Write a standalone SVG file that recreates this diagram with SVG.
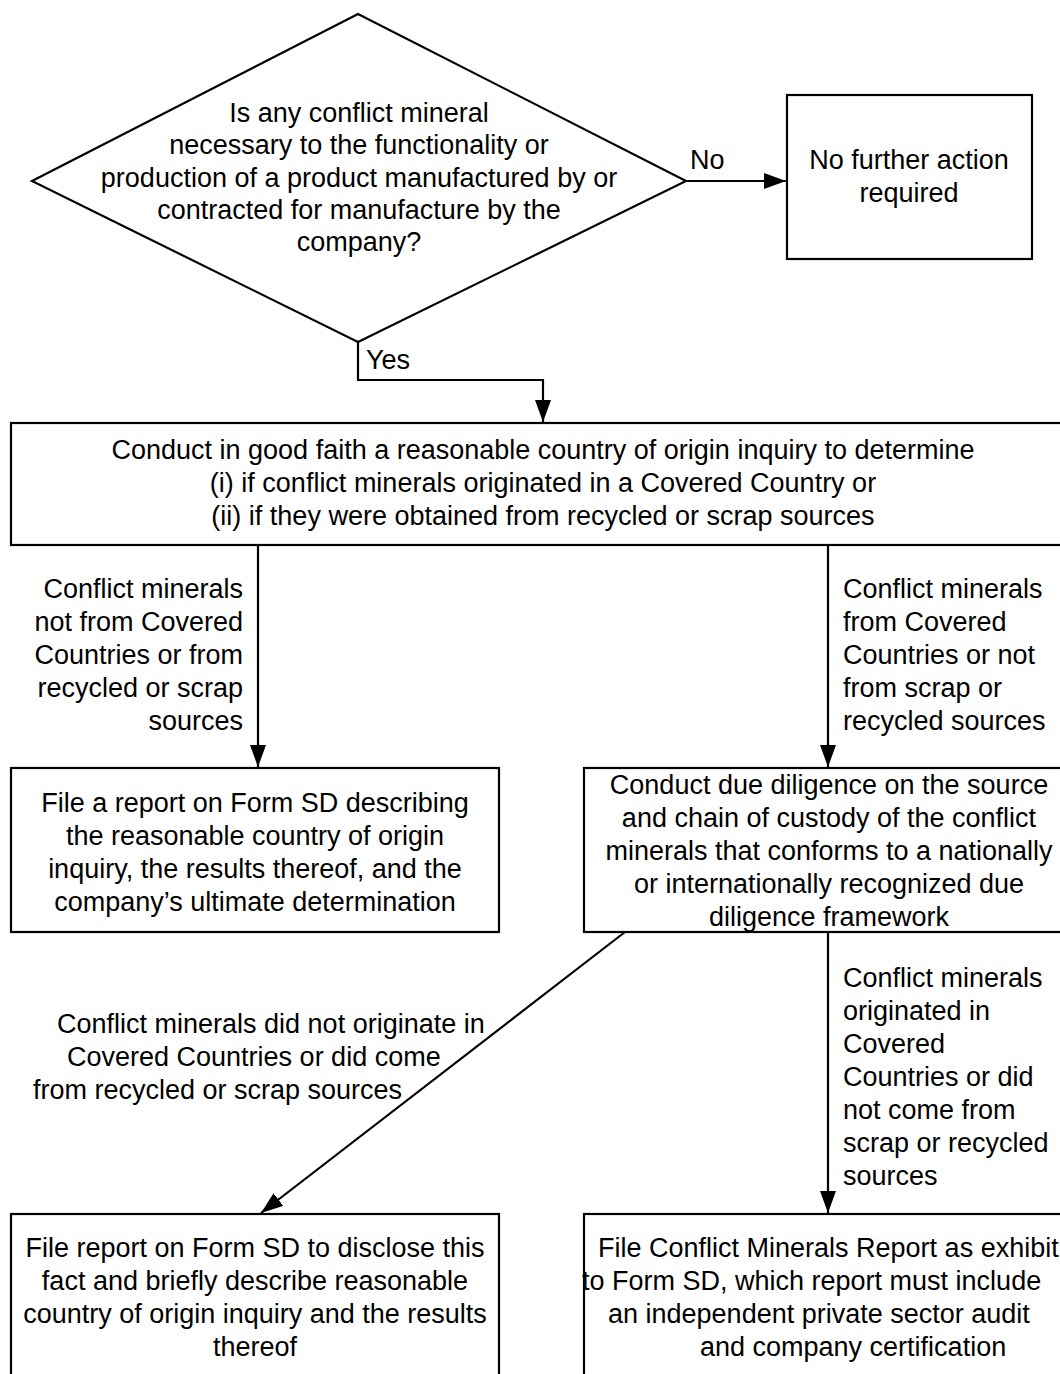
<svg xmlns="http://www.w3.org/2000/svg" width="1060" height="1374" viewBox="0 0 1060 1374">
<style>
text{font-family:"Liberation Sans",Arial,sans-serif;font-size:27px;fill:#000}
.c{text-anchor:middle}
.e{text-anchor:end}
.shape{fill:#fff;stroke:#000;stroke-width:2.2}
.conn{fill:none;stroke:#000;stroke-width:2.2}
</style>
<defs>
<marker id="arr" markerUnits="userSpaceOnUse" markerWidth="24" markerHeight="18" refX="22" refY="8" orient="auto">
<path d="M0,0 L22,8 L0,16 z" fill="#000"/>
</marker>
</defs>
<rect width="1060" height="1374" fill="#fff"/>
<g id="connectors">
<path class="conn" d="M686,181 H786" marker-end="url(#arr)"/>
<path class="conn" d="M358,342 V380 H543 V422" marker-end="url(#arr)"/>
<path class="conn" d="M258,545 V767" marker-end="url(#arr)"/>
<path class="conn" d="M828,545 V767" marker-end="url(#arr)"/>
<path class="conn" d="M625,932 L261,1213" marker-end="url(#arr)"/>
<path class="conn" d="M828,932 V1213" marker-end="url(#arr)"/>
<text x="690" y="169">No</text>
<text x="366" y="369">Yes</text>
<text class="e" x="243" y="598">Conflict minerals</text>
<text class="e" x="243" y="631">not from Covered</text>
<text class="e" x="243" y="664">Countries or from</text>
<text class="e" x="243" y="697">recycled or scrap</text>
<text class="e" x="243" y="730">sources</text>
<text x="843" y="598">Conflict minerals</text>
<text x="843" y="631">from Covered</text>
<text x="843" y="664">Countries or not</text>
<text x="843" y="697">from scrap or</text>
<text x="843" y="730">recycled sources</text>
<text x="57" y="1033">Conflict minerals did not originate in</text>
<text x="67" y="1066">Covered Countries or did come</text>
<text x="33" y="1099">from recycled or scrap sources</text>
<text x="843" y="987">Conflict minerals</text>
<text x="843" y="1020">originated in</text>
<text x="843" y="1053">Covered</text>
<text x="843" y="1086">Countries or did</text>
<text x="843" y="1119">not come from</text>
<text x="843" y="1152">scrap or recycled</text>
<text x="843" y="1185">sources</text>
</g>
<g id="decision">
<polygon class="shape" points="358,14 686,181 358,342 32,181"/>
<text class="c" x="359" y="122">Is any conflict mineral</text>
<text class="c" x="359" y="154">necessary to the functionality or</text>
<text class="c" x="359" y="187">production of a product manufactured by or</text>
<text class="c" x="359" y="219">contracted for manufacture by the</text>
<text class="c" x="359" y="251">company?</text>
</g>
<g id="no-action">
<rect class="shape" x="787" y="95" width="245" height="164"/>
<text class="c" x="909" y="169">No further action</text>
<text class="c" x="909" y="202">required</text>
</g>
<g id="inquiry">
<rect class="shape" x="11" y="423" width="1065" height="122"/>
<text class="c" x="543" y="459">Conduct in good faith a reasonable country of origin inquiry to determine</text>
<text class="c" x="543" y="492">(i) if conflict minerals originated in a Covered Country or</text>
<text class="c" x="543" y="525">(ii) if they were obtained from recycled or scrap sources</text>
</g>
<g id="file-report">
<rect class="shape" x="11" y="768" width="488" height="164"/>
<text class="c" x="255" y="812">File a report on Form SD describing</text>
<text class="c" x="255" y="845">the reasonable country of origin</text>
<text class="c" x="255" y="878">inquiry, the results thereof, and the</text>
<text class="c" x="255" y="911">company’s ultimate determination</text>
</g>
<g id="due-diligence">
<rect class="shape" x="584" y="768" width="490" height="164"/>
<text class="c" x="829" y="794">Conduct due diligence on the source</text>
<text class="c" x="829" y="827">and chain of custody of the conflict</text>
<text class="c" x="829" y="860">minerals that conforms to a nationally</text>
<text class="c" x="829" y="893">or internationally recognized due</text>
<text class="c" x="829" y="926">diligence framework</text>
</g>
<g id="file-disclose">
<rect class="shape" x="11" y="1214" width="488" height="200"/>
<text class="c" x="255" y="1257">File report on Form SD to disclose this</text>
<text class="c" x="255" y="1290">fact and briefly describe reasonable</text>
<text class="c" x="255" y="1323">country of origin inquiry and the results</text>
<text class="c" x="255" y="1356">thereof</text>
</g>
<g id="file-cmr">
<rect class="shape" x="584" y="1214" width="490" height="200"/>
<text x="598" y="1257">File Conflict Minerals Report as exhibit</text>
<text x="582" y="1290">to Form SD, which report must include</text>
<text x="608" y="1323">an independent private sector audit</text>
<text x="700" y="1356">and company certification</text>
</g>
</svg>
